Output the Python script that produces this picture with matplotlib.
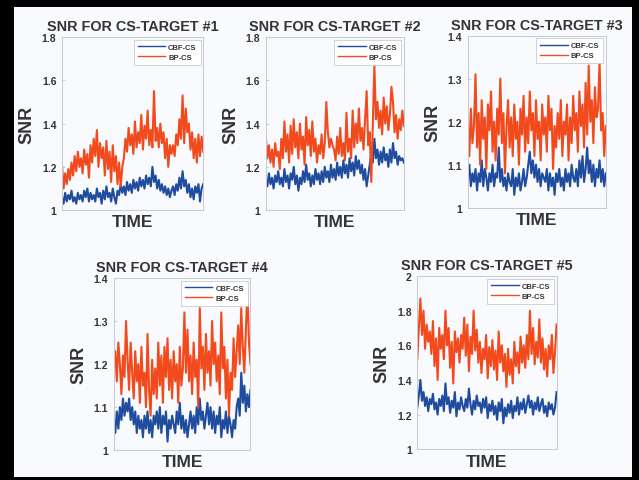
import numpy as np
import matplotlib
matplotlib.use('Agg')
import matplotlib.pyplot as plt
from matplotlib.patches import Rectangle

plt.rcParams['font.family'] = ['Liberation Sans', 'DejaVu Sans']
plt.rcParams['font.weight'] = 'bold'

# ---- data (SNR per time step) ----
cbf_1 = [1.06, 1.03, 1.08, 1.04, 1.07, 1.05, 1.09, 1.04, 1.06, 1.03,
         1.08, 1.05, 1.07, 1.04, 1.09, 1.06, 1.10, 1.04, 1.08, 1.05,
         1.07, 1.04, 1.10, 1.06, 1.08, 1.03, 1.09, 1.05, 1.11, 1.06,
         1.08, 1.04, 1.10, 1.06, 1.03, 1.09, 1.07, 1.12, 1.08, 1.11,
         1.07, 1.13, 1.09, 1.12, 1.08, 1.14, 1.10, 1.13, 1.09, 1.15,
         1.11, 1.14, 1.10, 1.16, 1.12, 1.15, 1.11, 1.20, 1.13, 1.16,
         1.10, 1.14, 1.09, 1.12, 1.08, 1.11, 1.07, 1.10, 1.06, 1.09,
         1.11, 1.07, 1.12, 1.09, 1.15, 1.10, 1.18, 1.11, 1.14, 1.08,
         1.12, 1.06, 1.10, 1.05, 1.11, 1.08, 1.12, 1.04, 1.10, 1.12]
bp_1 = [1.21, 1.10, 1.17, 1.12, 1.19, 1.14, 1.22, 1.16, 1.25, 1.18,
        1.27, 1.20, 1.24, 1.17, 1.28, 1.21, 1.26, 1.15, 1.30, 1.22,
        1.33, 1.25, 1.37, 1.20, 1.31, 1.24, 1.29, 1.16, 1.32, 1.19,
        1.27, 1.13, 1.30, 1.18, 1.25, 1.12, 1.22, 1.11, 1.20, 1.24,
        1.33, 1.27, 1.38, 1.30, 1.35, 1.26, 1.41, 1.29, 1.36, 1.31,
        1.44, 1.28, 1.39, 1.33, 1.46, 1.30, 1.37, 1.29, 1.55, 1.32,
        1.38, 1.29, 1.40, 1.31, 1.36, 1.24, 1.33, 1.20, 1.30, 1.26,
        1.30, 1.25, 1.35, 1.30, 1.42, 1.33, 1.53, 1.31, 1.47, 1.36,
        1.40, 1.28, 1.36, 1.24, 1.33, 1.22, 1.35, 1.25, 1.34, 1.27]

cbf_2 = [1.14, 1.11, 1.17, 1.12, 1.15, 1.10, 1.16, 1.13, 1.18, 1.12,
         1.15, 1.11, 1.19, 1.13, 1.16, 1.10, 1.17, 1.14, 1.20, 1.12,
         1.16, 1.09, 1.15, 1.12, 1.18, 1.13, 1.21, 1.14, 1.17, 1.11,
         1.16, 1.12, 1.19, 1.14, 1.17, 1.12, 1.18, 1.13, 1.20, 1.15,
         1.18, 1.13, 1.21, 1.15, 1.19, 1.14, 1.22, 1.16, 1.20, 1.15,
         1.23, 1.17, 1.21, 1.15, 1.24, 1.18, 1.22, 1.16, 1.25, 1.19,
         1.23, 1.17, 1.21, 1.14, 1.19, 1.11, 1.16, 1.21, 1.26, 1.22,
         1.33, 1.24, 1.28, 1.21, 1.27, 1.22, 1.29, 1.23, 1.26, 1.20,
         1.28, 1.22, 1.31, 1.24, 1.27, 1.21, 1.25, 1.23, 1.24, 1.22]
bp_2 = [1.34, 1.24, 1.30, 1.22, 1.28, 1.20, 1.31, 1.25, 1.27, 1.19,
        1.33, 1.24, 1.41, 1.27, 1.35, 1.22, 1.39, 1.26, 1.42, 1.29,
        1.36, 1.24, 1.40, 1.28, 1.34, 1.21, 1.43, 1.30, 1.37, 1.25,
        1.41, 1.27, 1.33, 1.22, 1.30, 1.26, 1.35, 1.24, 1.31, 1.50,
        1.36, 1.29, 1.33, 1.30, 1.28, 1.23, 1.34, 1.26, 1.38, 1.25,
        1.31, 1.23, 1.45, 1.27, 1.33, 1.24, 1.46, 1.29, 1.40, 1.31,
        1.47, 1.32, 1.38, 1.28, 1.42, 1.55, 1.30, 1.36, 1.13, 1.40,
        1.67, 1.42, 1.50, 1.38, 1.46, 1.35, 1.52, 1.40, 1.48, 1.37,
        1.44, 1.57, 1.50, 1.36, 1.44, 1.33, 1.42, 1.37, 1.46, 1.39]

cbf_3 = [1.07, 1.10, 1.05, 1.08, 1.06, 1.09, 1.04, 1.08, 1.06, 1.11,
         1.05, 1.09, 1.07, 1.04, 1.08, 1.06, 1.10, 1.05, 1.08, 1.07,
         1.14, 1.06, 1.09, 1.05, 1.07, 1.04, 1.08, 1.06, 1.05, 1.09,
         1.03, 1.07, 1.05, 1.08, 1.04, 1.06, 1.09, 1.05, 1.07, 1.10,
         1.13, 1.08, 1.11, 1.07, 1.10, 1.06, 1.09, 1.05, 1.08, 1.07,
         1.06, 1.09, 1.04, 1.08, 1.05, 1.07, 1.03, 1.08, 1.06, 1.09,
         1.05, 1.07, 1.04, 1.09, 1.06, 1.08, 1.05, 1.10, 1.07, 1.06,
         1.09, 1.05, 1.11, 1.07, 1.12, 1.06, 1.09, 1.14, 1.08, 1.11,
         1.06, 1.10, 1.05, 1.09, 1.07, 1.11, 1.06, 1.09, 1.05, 1.08]
bp_3 = [1.20, 1.12, 1.23, 1.15, 1.19, 1.31, 1.14, 1.22, 1.10, 1.25,
        1.16, 1.21, 1.09, 1.24, 1.18, 1.27, 1.13, 1.20, 1.11, 1.23,
        1.17, 1.30, 1.15, 1.22, 1.08, 1.19, 1.25, 1.14, 1.21, 1.12,
        1.24, 1.16, 1.20, 1.10, 1.23, 1.17, 1.26, 1.13, 1.21, 1.15,
        1.27, 1.18, 1.22, 1.12, 1.25, 1.16, 1.20, 1.11, 1.24, 1.17,
        1.21, 1.13, 1.26, 1.18, 1.23, 1.09, 1.19, 1.14, 1.22, 1.16,
        1.25, 1.12, 1.20, 1.17, 1.24, 1.11, 1.21, 1.15, 1.26, 1.18,
        1.22, 1.13, 1.27, 1.19, 1.24, 1.14, 1.29, 1.17, 1.33, 1.20,
        1.25, 1.15, 1.28, 1.21, 1.23, 1.34, 1.18, 1.22, 1.12, 1.19]

cbf_4 = [1.06, 1.04, 1.09, 1.05, 1.10, 1.07, 1.12, 1.08, 1.11, 1.09,
         1.12, 1.07, 1.10, 1.06, 1.09, 1.04, 1.08, 1.05, 1.07, 1.03,
         1.08, 1.05, 1.09, 1.04, 1.07, 1.03, 1.08, 1.06, 1.09, 1.05,
         1.10, 1.04, 1.08, 1.06, 1.09, 1.02, 1.07, 1.05, 1.08, 1.06,
         1.04, 1.09, 1.06, 1.11, 1.05, 1.08, 1.04, 1.07, 1.03, 1.06,
         1.09, 1.05, 1.08, 1.04, 1.10, 1.06, 1.12, 1.07, 1.09, 1.05,
         1.08, 1.11, 1.06, 1.10, 1.05, 1.09, 1.04, 1.08, 1.06, 1.10,
         1.03, 1.07, 1.05, 1.09, 1.04, 1.08, 1.06, 1.03, 1.07, 1.05,
         1.10, 1.12, 1.08, 1.18, 1.11, 1.15, 1.09, 1.13, 1.10, 1.14]
bp_4 = [1.19, 1.23, 1.16, 1.25, 1.20, 1.13, 1.22, 1.17, 1.30, 1.21,
        1.14, 1.25, 1.18, 1.12, 1.23, 1.16, 1.20, 1.11, 1.24, 1.15,
        1.18, 1.10, 1.27, 1.14, 1.08, 1.21, 1.13, 1.19, 1.12, 1.25,
        1.15, 1.22, 1.11, 1.24, 1.17, 1.26, 1.14, 1.21, 1.12, 1.23,
        1.16, 1.20, 1.11, 1.24, 1.15, 1.19, 1.32, 1.18, 1.28, 1.16,
        1.22, 1.13, 1.25, 1.17, 1.21, 1.10, 1.33, 1.19, 1.24, 1.14,
        1.27, 1.18, 1.23, 1.15, 1.30, 1.20, 1.25, 1.16, 1.22, 1.13,
        1.32, 1.19, 1.24, 1.12, 1.21, 1.08, 1.18, 1.14, 1.26, 1.17,
        1.23, 1.29, 1.20, 1.33, 1.24, 1.18, 1.28, 1.37, 1.25, 1.20]

cbf_5 = [1.24, 1.31, 1.40, 1.28, 1.33, 1.25, 1.30, 1.22, 1.29, 1.26,
         1.32, 1.23, 1.27, 1.20, 1.29, 1.25, 1.31, 1.22, 1.38, 1.26,
         1.30, 1.21, 1.28, 1.24, 1.33, 1.19, 1.27, 1.23, 1.30, 1.25,
         1.22, 1.29, 1.24, 1.35, 1.26, 1.20, 1.28, 1.23, 1.31, 1.25,
         1.27, 1.21, 1.29, 1.24, 1.30, 1.18, 1.26, 1.22, 1.28, 1.20,
         1.25, 1.17, 1.27, 1.22, 1.29, 1.15, 1.24, 1.19, 1.26, 1.21,
         1.28, 1.18, 1.25, 1.22, 1.30, 1.20, 1.27, 1.23, 1.29, 1.21,
         1.26, 1.31, 1.24, 1.28, 1.20, 1.27, 1.23, 1.30, 1.22, 1.26,
         1.29, 1.21, 1.25, 1.19, 1.27, 1.23, 1.26, 1.20, 1.24, 1.33]
bp_5 = [1.52, 1.70, 1.87, 1.66, 1.80, 1.58, 1.72, 1.62, 1.68, 1.55,
        1.74, 1.48, 1.64, 1.40, 1.70, 1.58, 1.66, 1.52, 1.80, 1.60,
        1.70, 1.47, 1.62, 1.38, 1.68, 1.56, 1.64, 1.50, 1.66, 1.58,
        1.76, 1.54, 1.72, 1.45, 1.65, 1.55, 1.80, 1.57, 1.69, 1.50,
        1.62, 1.44, 1.58, 1.52, 1.66, 1.41, 1.59, 1.48, 1.63, 1.46,
        1.57, 1.40, 1.68, 1.50, 1.60, 1.45, 1.55, 1.36, 1.58, 1.43,
        1.52, 1.38, 1.62, 1.48, 1.56, 1.44, 1.65, 1.50, 1.60, 1.47,
        1.66, 1.52, 1.80, 1.55, 1.70, 1.49, 1.62, 1.53, 1.75, 1.50,
        1.64, 1.46, 1.58, 1.42, 1.60, 1.52, 1.66, 1.44, 1.56, 1.72]

titles = ['SNR FOR CS-TARGET #1', 'SNR FOR CS-TARGET #2', 'SNR FOR CS-TARGET #3',
          'SNR FOR CS-TARGET #4', 'SNR FOR CS-TARGET #5']
ylims = [(1, 1.8), (1, 1.8), (1, 1.4), (1, 1.4), (1, 2)]
ystep = [0.2, 0.2, 0.1, 0.1, 0.2]
series = [(cbf_1, bp_1), (cbf_2, bp_2), (cbf_3, bp_3), (cbf_4, bp_4), (cbf_5, bp_5)]

# axes boxes in figure fractions (left, bottom, width, height)
boxes = [(0.097, 0.561, 0.221, 0.360),
         (0.416, 0.561, 0.216, 0.360),
         (0.732, 0.566, 0.216, 0.358),
         (0.178, 0.062, 0.214, 0.358),
         (0.653, 0.064, 0.218, 0.360)]

blue = '#1f4c9e'
orange = '#f24a1d'
spine_c = '#c3c9d4'
text_c = '#333338'
bg = '#f9fafd'

fig = plt.figure(figsize=(6.39, 4.81), dpi=100, facecolor=bg)

for i in range(5):
    ax = fig.add_axes(boxes[i], facecolor=bg)
    cbf, bp = series[i]
    x = np.arange(len(cbf))
    ax.plot(x, cbf, color=blue, lw=1.5, label='CBF-CS')
    ax.plot(x, bp, color=orange, lw=1.5, label='BP-CS')
    ax.set_xlim(0, len(cbf) - 1)
    ax.set_ylim(*ylims[i])
    ticks = np.round(np.arange(ylims[i][0], ylims[i][1] + 1e-9, ystep[i]), 1)
    ax.set_yticks(ticks)
    ax.set_yticklabels(['%g' % t for t in ticks])
    ax.set_xticks([])
    for s in ax.spines.values():
        s.set_color(spine_c)
        s.set_linewidth(0.7)
    ax.tick_params(axis='y', direction='in', length=2, width=0.6, color=spine_c,
                   labelsize=7.5, labelcolor=text_c, pad=4)
    ax.set_title(titles[i], fontsize=10.4, fontweight='bold', color=text_c, pad=5)
    ax.set_ylabel('SNR', fontsize=13, fontweight='bold', color=text_c)
    ax.set_xlabel('TIME', fontsize=12.5, fontweight='bold', color=text_c)
    ax.yaxis.set_label_coords(-0.19, 0.5)
    ax.xaxis.set_label_coords(0.5, -0.025)
    leg = ax.legend(loc='upper right', fontsize=5.5, frameon=True, fancybox=False,
                    edgecolor='#c8ccd4', framealpha=1, handlelength=3.6,
                    handletextpad=0.4, borderpad=0.5, labelspacing=0.35,
                    borderaxespad=0.35)
    leg.get_frame().set_linewidth(0.6)
    for h in leg.get_lines():
        h.set_linewidth(1.0)
    for t in leg.get_texts():
        t.set_color(text_c)

# black frame around the picture (pixel coordinates)
W, H = 639, 481
for (x0, y0, x1, y1) in [(0, 0, W, 8), (0, 0, 14, H), (632, 0, W, H), (0, 478, W, H)]:
    fig.add_artist(Rectangle((x0 / W, 1 - y1 / H), (x1 - x0) / W, (y1 - y0) / H,
                             transform=fig.transFigure, facecolor='black',
                             edgecolor='none', zorder=10))

fig.savefig('out.png', dpi=100, facecolor=bg)
